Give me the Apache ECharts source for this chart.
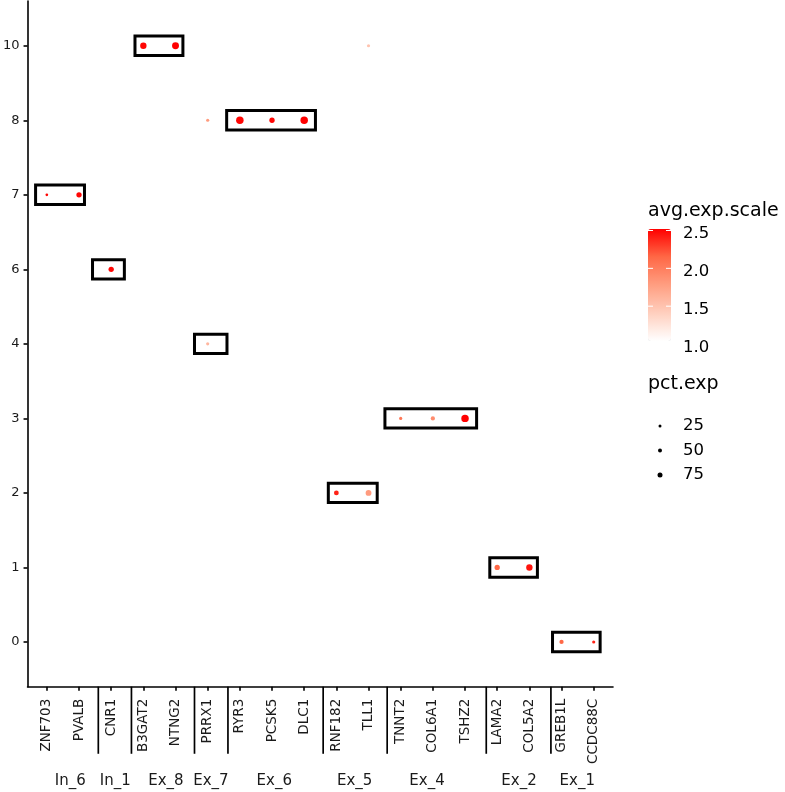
<!DOCTYPE html>
<html>
<head>
<meta charset="utf-8">
<script src="https://cdn.jsdelivr.net/npm/echarts@6/dist/echarts.min.js"></script>
<style>html,body{margin:0;padding:0;background:#fff}#c{width:785px;height:792px}</style>
</head>
<body>
<div id="c"></div>
<script>
// ---- data ----
const genes = ['ZNF703','PVALB','CNR1','B3GAT2','NTNG2','PRRX1','RYR3','PCSK5','DLC1','RNF182','TLL1','TNNT2','COL6A1','TSHZ2','LAMA2','COL5A2','GREB1L','CCDC88C'];
const yLevels = ['0','1','2','3','4','6','7','8','10'];

const dotGene   = ['ZNF703','PVALB','CNR1','B3GAT2','NTNG2','PRRX1','RYR3','PCSK5','DLC1','TLL1','PRRX1','RNF182','TLL1','TNNT2','COL6A1','TSHZ2','LAMA2','COL5A2','GREB1L','CCDC88C'];
const dotLevel  = ['7','7','6','10','10','8','8','8','8','10','4','2','2','3','3','3','1','1','0','0'];
const dotAvgExp = [2.5,2.5,2.5,2.5,2.52,1.8,2.5,2.5,2.52,1.5,1.6,2.4,1.8,2.05,1.9,2.52,2.15,2.45,2.15,2.4];
const dotPctExp = [10,39,39,56,66,14,77,39,77,14,14,32,47,14,25,77,39,56,25,14];

const groups     = ['In_6','In_1','Ex_8','Ex_7','Ex_6','Ex_5','Ex_4','Ex_2','Ex_1'];
const groupLevel = ['7','6','10','4','8','2','3','1','0'];
const boxXmin    = [-0.35,1.42,2.74,4.59,5.59,8.75,10.51,13.77,15.72];
const boxXmax    = [1.17,2.41,4.23,5.60,8.35,10.27,13.36,15.25,17.20];
const separatorX = [1.6,2.63,4.59,5.63,8.59,10.58,13.66,15.67];
const groupLabelX = [0.73,2.13,3.7,5.1,7.07,9.57,11.82,14.68,16.49];

const colorTicks = [1.0,1.5,2.0,2.5];
const sizeLegend = ['25','50','75'];

// ---- chart ----
const FONT = 'DejaVu Sans';
const chart = echarts.init(document.getElementById('c'), null, {renderer:'canvas'});

const cMin = 1.04, cMax = 2.52;
const barLeft = 648, barTop = 229, barW = 23, barH = 112;

const scatterData = dotGene.map((g,i)=>[genes.indexOf(g), yLevels.indexOf(dotLevel[i]), dotAvgExp[i], dotPctExp[i]]);
const boxData = groups.map((g,i)=>[boxXmin[i], boxXmax[i], yLevels.indexOf(groupLevel[i])]);
const sepData = separatorX.map(x=>[x,-1]);
const labelData = groups.map((g,i)=>[groupLabelX[i], -1.87, g]);

const graphics = [];
graphics.push({type:'text', x:barLeft, y:211, z:100, style:{text:'avg.exp.scale', font:'19px "'+FONT+'"', fill:'#000', verticalAlign:'middle', align:'left'}});
colorTicks.forEach(v=>{
  const y = barTop + (cMax - v)/(cMax - cMin)*barH;
  if (v >= cMin) {
    graphics.push({type:'line', z:100, shape:{x1:barLeft, y1:y, x2:barLeft+5, y2:y}, style:{stroke:'#fff', lineWidth:1}});
    graphics.push({type:'line', z:100, shape:{x1:barLeft+barW-5, y1:y, x2:barLeft+barW, y2:y}, style:{stroke:'#fff', lineWidth:1}});
  }
  graphics.push({type:'text', x:683, y:y+3.5, z:100, style:{text:v.toFixed(1), font:'16.5px "'+FONT+'"', fill:'#000', verticalAlign:'middle', align:'left'}});
});
graphics.push({type:'text', x:barLeft, y:384, z:100, style:{text:'pct.exp', font:'19px "'+FONT+'"', fill:'#000', verticalAlign:'middle', align:'left'}});
const legR = [1.5,2,2.5];
sizeLegend.forEach((s,i)=>{
  const y = 426 + i*24.5;
  graphics.push({type:'circle', z:100, shape:{cx:660, cy:y, r:legR[i]}, style:{fill:'#000'}});
  graphics.push({type:'text', x:683, y:y, z:100, style:{text:s, font:'16.5px "'+FONT+'"', fill:'#000', verticalAlign:'middle', align:'left'}});
});

const option = {
  animation:false,
  backgroundColor:'#fff',
  grid:{left:25, right:172, top:1, bottom:105.3},
  xAxis:{
    type:'value', min:-0.6, max:17.6,
    axisLine:{onZero:false, lineStyle:{color:'#000', width:1.6}},
    axisTick:{show:true, customValues:genes.map((g,i)=>i), length:4, lineStyle:{color:'#000', width:1.6}},
    axisLabel:{customValues:genes.map((g,i)=>i), formatter:(v)=>genes[Math.round(v)]||'', rotate:90, margin:12,
      fontFamily:FONT, fontSize:13.5, color:'#1a1a1a', padding:[7,0,0,0]},
    splitLine:{show:false}
  },
  yAxis:{
    type:'value', min:-0.6, max:8.6,
    axisLine:{onZero:false, lineStyle:{color:'#000', width:1.6}},
    axisTick:{show:true, customValues:yLevels.map((g,i)=>i), length:4, lineStyle:{color:'#000', width:1.6}},
    axisLabel:{customValues:yLevels.map((g,i)=>i), formatter:(v)=>yLevels[Math.round(v)]||'', margin:8,
      fontFamily:FONT, fontSize:13, color:'#1a1a1a'},
    splitLine:{show:false}
  },
  visualMap:{
    type:'continuous', seriesIndex:1, dimension:2, min:cMin, max:cMax,
    inRange:{color:['#FFFFFF','#FFCFBE','#FF9E81','#FF6846','#FF0000']},
    left:barLeft, top:barTop, itemWidth:barW, itemHeight:barH,
    calculable:false, padding:0, text:null, hoverLink:false
  },
  graphic:graphics,
  series:[
    {
      type:'custom', name:'boxes', z:1, clip:false,
      data:boxData, encode:{x:[0,1], y:2},
      renderItem:(params, api)=>{
        const p1 = api.coord([api.value(0), api.value(2)+0.13]);
        const p2 = api.coord([api.value(1), api.value(2)-0.13]);
        return {type:'rect', shape:{x:p1[0], y:p1[1], width:p2[0]-p1[0], height:p2[1]-p1[1]},
          style:{fill:null, stroke:'#000', lineWidth:3}};
      }
    },
    {
      type:'scatter', name:'dots', z:3,
      data:scatterData, encode:{x:0, y:1},
      symbol:'circle',
      symbolSize:(v)=>8.5*Math.sqrt(v[3]/100),
      itemStyle:{opacity:1}
    },
    {
      type:'custom', name:'separators', clip:false,
      data:sepData, encode:{x:0, y:1},
      renderItem:(params, api)=>{
        const a = api.coord([api.value(0), -0.6]);
        const b = api.coord([api.value(0), -1.5]);
        return {type:'line', shape:{x1:a[0], y1:a[1], x2:b[0], y2:b[1]}, style:{stroke:'#000', lineWidth:1.7}};
      }
    },
    {
      type:'custom', name:'groupLabels', clip:false,
      data:labelData, encode:{x:0, y:1},
      renderItem:(params, api)=>{
        const p = api.coord([api.value(0), api.value(1)]);
        return {type:'text', x:p[0], y:p[1], style:{text:groups[params.dataIndex], font:'15px "'+FONT+'"', fill:'#1a1a1a', align:'center', verticalAlign:'middle'}};
      }
    }
  ]
};
chart.setOption(option);
</script>
</body>
</html>
